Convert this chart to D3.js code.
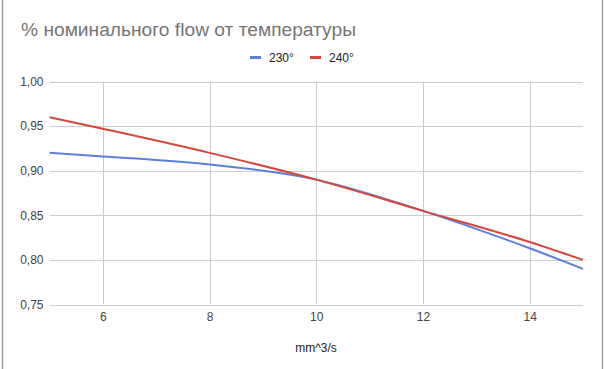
<!DOCTYPE html>
<html><head><meta charset="utf-8">
<script src="https://cdn.jsdelivr.net/npm/d3@7"></script>
<style>body{margin:0;background:#fff;} svg{display:block;font-family:Arial, "Liberation Sans", sans-serif;}</style>
</head><body>
<svg id="c" width="604" height="369"></svg>
<script>
const xValues = [5, 6, 8, 10, 12, 14, 15];
const series230 = [0.92, 0.916, 0.907, 0.89, 0.855, 0.813, 0.79];
const series240 = [0.96, 0.947, 0.92, 0.89, 0.855, 0.82, 0.80];
const seriesNames = ["230°", "240°"];
const seriesColors = ["#5b7fdb", "#d6473b"];
const xTicks = [6, 8, 10, 12, 14];
const yTicks = [0.75, 0.80, 0.85, 0.90, 0.95, 1.00];
const titleText = "% номинального flow от температуры";
const xTitle = "mm^3/s";

const svg = d3.select("#c");
// frame
svg.append("line").attr("x1",2.5).attr("x2",2.5).attr("y1",0).attr("y2",369).attr("stroke","#9e9e9e").attr("stroke-width",1.5);
svg.append("line").attr("x1",602.5).attr("x2",602.5).attr("y1",0).attr("y2",369).attr("stroke","#9e9e9e").attr("stroke-width",1.5);

const x = d3.scaleLinear().domain([5, 15]).range([49.5, 583]);
const y = d3.scaleLinear().domain([0.75, 1.00]).range([304.5, 81.5]);

svg.append("text").attr("x", 21).attr("y", 36).attr("font-size", 19.2).attr("fill", "#757575").text(titleText);

// grid
const g = svg.append("g");
g.selectAll(".hy").data(yTicks).join("line")
  .attr("x1", x(5)).attr("x2", x(15))
  .attr("y1", d => Math.round(y(d)) + 0.5).attr("y2", d => Math.round(y(d)) + 0.5)
  .attr("stroke", "#cccccc");
g.selectAll(".vx").data(xTicks).join("line")
  .attr("y1", y(1.00)).attr("y2", y(0.75))
  .attr("x1", d => Math.round(x(d)) + 0.5).attr("x2", d => Math.round(x(d)) + 0.5)
  .attr("stroke", "#cccccc");

// axes via d3
const fmt = d => d3.format(".2f")(d).replace(".", ",");
const yAxis = svg.append("g").attr("transform", `translate(${x(5)},0)`)
  .call(d3.axisLeft(y).tickValues(yTicks).tickFormat(fmt).tickSize(0).tickPadding(6));
yAxis.select(".domain").remove();
yAxis.selectAll("text").attr("font-size", 12).attr("fill", "#444").attr("font-family", "Arial, 'Liberation Sans', sans-serif");

const xAxis = svg.append("g").attr("transform", `translate(0,${y(0.75)})`)
  .call(d3.axisBottom(x).tickValues(xTicks).tickFormat(d3.format("d")).tickSize(0).tickPadding(8));
xAxis.select(".domain").remove();
xAxis.selectAll("text").attr("font-size", 12).attr("fill", "#444").attr("font-family", "Arial, 'Liberation Sans', sans-serif");

svg.append("text").attr("x", 316).attr("y", 352).attr("text-anchor", "middle")
  .attr("font-size", 12).attr("fill", "#222").text(xTitle);

// lines
const line = d3.line().x(d => x(d[0])).y(d => y(d[1])).curve(d3.curveMonotoneX);
[series230, series240].forEach((s, i) => {
  svg.append("path").datum(xValues.map((xv, j) => [xv, s[j]]))
    .attr("d", line).attr("fill", "none").attr("stroke", seriesColors[i]).attr("stroke-width", 2);
});

// legend
const legX = [250, 310];
seriesNames.forEach((n, i) => {
  svg.append("line").attr("x1", legX[i]).attr("x2", legX[i] + 11).attr("y1", 57.5).attr("y2", 57.5)
    .attr("stroke", seriesColors[i]).attr("stroke-width", 3);
  svg.append("text").attr("x", legX[i] + 19).attr("y", 62).attr("font-size", 12).attr("fill", "#222").text(n);
});
</script>
</body></html>
